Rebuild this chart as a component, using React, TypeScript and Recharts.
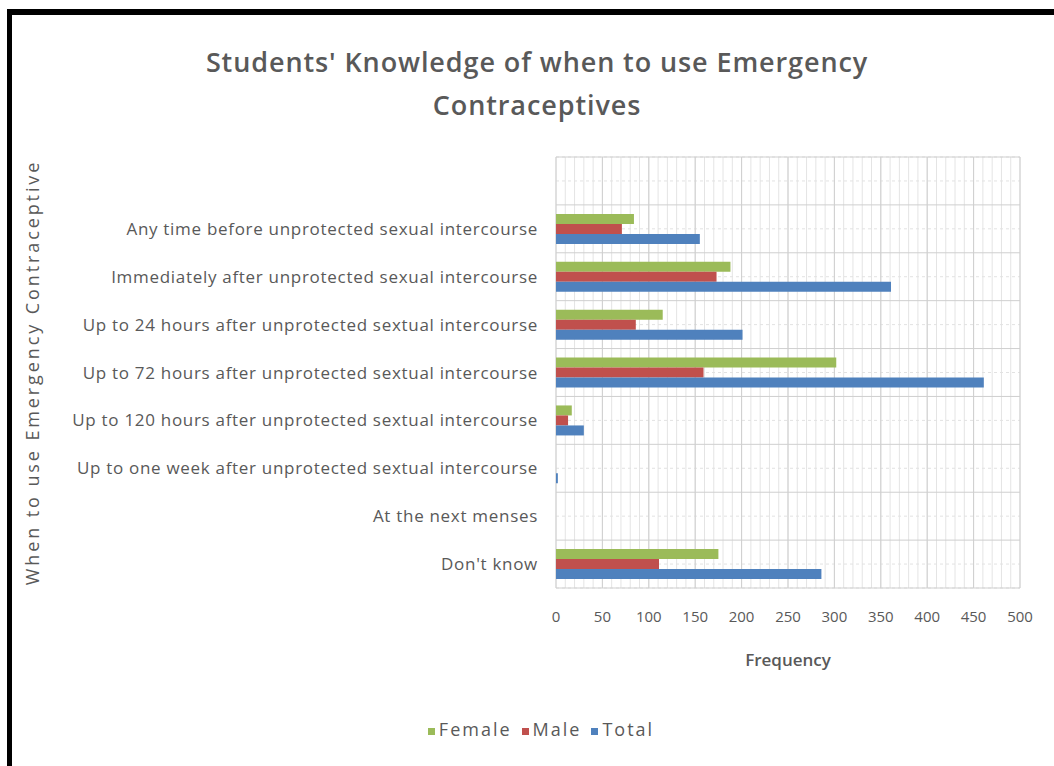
import React from "react";
import {
  BarChart,
  Bar,
  XAxis,
  YAxis,
  CartesianGrid,
  Legend,
} from "recharts";

// categories from top to bottom (first row is blank in the source chart)
const categories = [
  "",
  "Any time before unprotected sexual intercourse",
  "Immediately after unprotected sexual intercourse",
  "Up to 24 hours after unprotected sextual intercourse",
  "Up to 72 hours after unprotected sextual intercourse",
  "Up to 120 hours after unprotected sextual intercourse",
  "Up to one week after unprotected sextual intercourse",
  "At the next menses",
  "Don't know",
];

const female = [0, 84, 188, 115, 302, 17, 0, 0, 175];
const male = [0, 71, 173, 86, 159, 13, 0, 0, 111];
const total = [0, 155, 361, 201, 461, 30, 2, 0, 286];

const majorTicks = [0, 50, 100, 150, 200, 250, 300, 350, 400, 450, 500];
const minorTicks = Array.from({ length: 51 }, (_, i) => i * 10);

const data = categories.map((label, i) => ({
  label,
  Female: female[i],
  Male: male[i],
  Total: total[i],
}));

const GRAY = "#595959";

// horizontal gridlines on the category boundaries (Excel style), from the band scale
const rowBoundaries = ({ yAxis, offset }: any) => {
  const s = yAxis && yAxis.scale;
  const fn = typeof s === "function" ? s : s && s.map ? (v: string) => s.map(v) : null;
  const bw = s && typeof s.bandwidth === "function" ? s.bandwidth() : null;
  if (fn && bw) {
    const pts = categories.map((c) => fn(c));
    pts.push(fn(categories[categories.length - 1]) + bw);
    if (pts.every((p) => typeof p === "number" && !isNaN(p))) return pts;
  }
  const step = offset.height / categories.length;
  return categories.map((_, i) => offset.top + i * step).concat(offset.top + offset.height);
};

export default function App() {
  return (
    <div
      style={{
        position: "fixed",
        left: 0,
        top: 0,
        width: 1054,
        height: 766,
        background: "#fff",
        overflow: "hidden",
      }}
    >
      <div
        style={{
          position: "absolute",
          left: 7,
          top: 9,
          right: -10,
          bottom: -10,
          borderTop: "6px solid #000",
          borderLeft: "5px solid #000",
        }}
      />
      <div
        style={{
          position: "absolute",
          left: 0,
          width: 1074,
          top: 40,
          textAlign: "center",
          fontFamily: "'Open Sans', sans-serif",
          fontWeight: 600,
          fontSize: 27,
          letterSpacing: 0.9,
          lineHeight: "43px",
          color: GRAY,
        }}
      >
        Students' Knowledge of when to use Emergency
        <br />
        Contraceptives
      </div>
      <div style={{ position: "absolute", left: 0, top: 0 }}>
        <BarChart
          width={1054}
          height={766}
          data={data}
          layout="vertical"
          margin={{ top: 157, right: 34, left: 20, bottom: 19 }}
          barGap={0}
          style={{ fontFamily: "'Open Sans', sans-serif" }}
        >
          <CartesianGrid
            xAxisId="minor"
            horizontal={false}
            stroke="#e4e4e4"
          />
          <CartesianGrid
            vertical={false}
            stroke="#e2e2e2"
            strokeDasharray="3 3"
          />
          <CartesianGrid
            stroke="#cfcfcf"
            horizontalCoordinatesGenerator={rowBoundaries}
          />
          <XAxis
            type="number"
            domain={[0, 500]}
            ticks={majorTicks}
            interval={0}
            axisLine={false}
            tickLine={false}
            tickSize={0}
            tickMargin={23}
            height={129}
            tick={{ fill: GRAY, fontSize: 15 }}
            label={{
              value: "Frequency",
              position: "insideTop",
              offset: 66,
              fill: GRAY,
              fontSize: 17,
              fontWeight: 600,
            }}
          />
          <XAxis
            xAxisId="minor"
            type="number"
            domain={[0, 500]}
            ticks={minorTicks}
            interval={0}
            allowDataOverflow
            hide
          />
          <YAxis
            type="category"
            dataKey="label"
            width={536}
            axisLine={false}
            tickLine={false}
            tickSize={0}
            tickMargin={18}
            interval={0}
            tick={{ fill: GRAY, fontSize: 17, letterSpacing: 0.7 }}
            label={{
              value: "When to use Emergency  Contraceptive",
              angle: -90,
              position: "insideLeft",
              offset: 13,
              fill: GRAY,
              fontSize: 18,
              style: { textAnchor: "middle", letterSpacing: 2.9 },
            }}
          />
          <Legend
            height={30}
            iconType="square"
            iconSize={7}
            wrapperStyle={{ left: 46, fontSize: 18, letterSpacing: 2 }}
            formatter={(value) => <span style={{ color: GRAY }}>{value}</span>}
          />
          <Bar dataKey="Female" fill="#9BBB59" barSize={10} isAnimationActive={false} />
          <Bar dataKey="Male" fill="#C0504D" barSize={10} isAnimationActive={false} />
          <Bar dataKey="Total" fill="#4F81BD" barSize={10} isAnimationActive={false} />
        </BarChart>
      </div>
    </div>
  );
}
